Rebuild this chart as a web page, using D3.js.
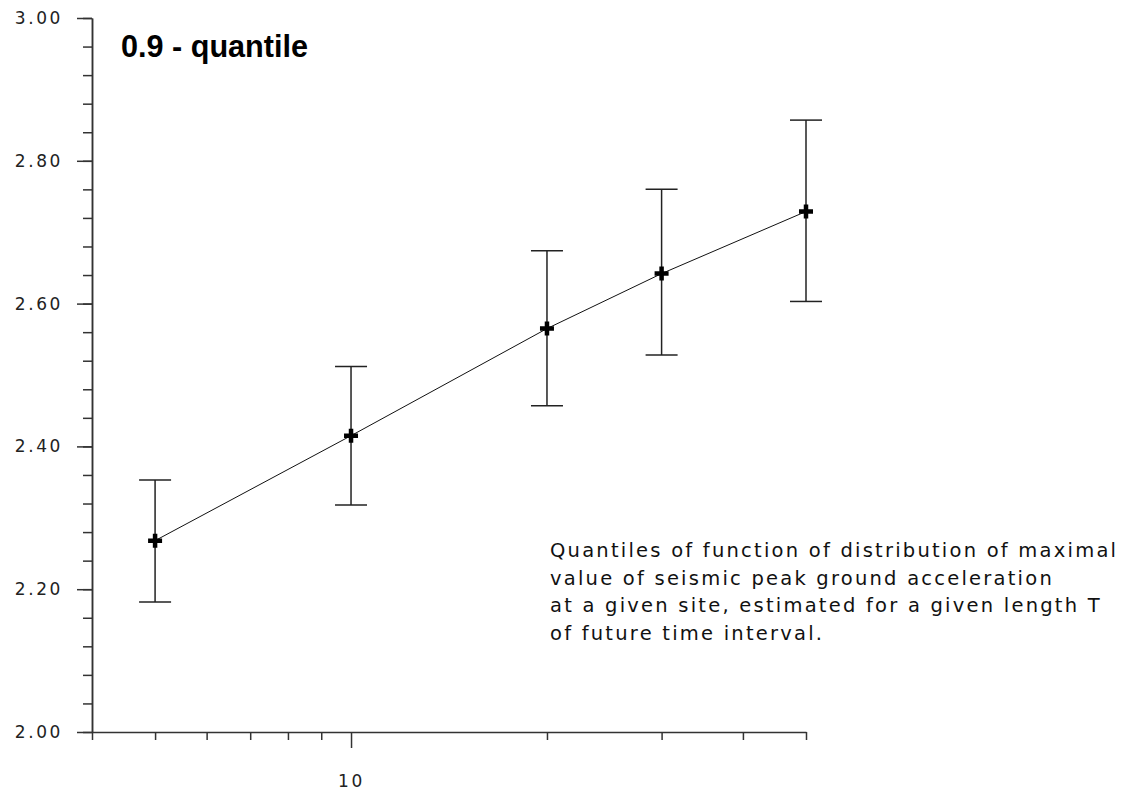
<!DOCTYPE html>
<html>
<head>
<meta charset="utf-8">
<script src="https://cdn.jsdelivr.net/npm/d3@7"></script>
<style>
  body { margin: 0; background: #fff; }
  svg { display: block; }
</style>
</head>
<body>
<div id="chart"></div>
<script>
// T (years) on a log axis, 0.9-quantile with lower / upper bounds
const periods = [5, 10, 20, 30, 50];
const quantile = [2.268, 2.415, 2.565, 2.642, 2.729];
const lowerBound = [2.182, 2.318, 2.457, 2.528, 2.603];
const upperBound = [2.353, 2.512, 2.674, 2.760, 2.857];

const yMajorTicks = [2.0, 2.2, 2.4, 2.6, 2.8, 3.0];
const yMinorTicks = d3.range(0, 26).map(i => 2 + i * 0.04);
const xMinorTicks = [4, 5, 6, 7, 8, 9, 20, 30, 40, 50];
const xMajorTicks = [10];

const titleText = "0.9 - quantile";
const noteLines = [
  "Quantiles of function of distribution of maximal",
  "value of seismic peak ground acceleration",
  "at a given site, estimated for a given length T",
  "of future time interval."
];

const width = 1123,
  height = 792;
const svg = d3.select("#chart").append("svg").attr("width", width).attr("height", height);

const x = d3.scaleLog().domain([4, 50]).range([92, 806]);
const y = d3.scaleLinear().domain([2, 3]).range([732, 18]);

const axisColor = "#333";
const tickFont = "'DejaVu Sans', sans-serif";

function styleLabels(g) {
  g.selectAll("text")
    .attr("fill", "#222")
    .attr("font-family", tickFont)
    .attr("font-size", 17)
    .attr("letter-spacing", "2.6px");
}

// y axis: minor ticks first, then labelled majors
svg
  .append("g")
  .attr("transform", `translate(${x.range()[0]},0)`)
  .call(d3.axisLeft(y).tickValues(yMinorTicks).tickSize(9).tickSizeOuter(0).tickFormat(""))
  .call(g => g.selectAll("line,path").attr("stroke", axisColor).attr("stroke-width", 1.5));

svg
  .append("g")
  .attr("transform", `translate(${x.range()[0]},0)`)
  .call(d3.axisLeft(y).tickValues(yMajorTicks).tickSize(15).tickSizeOuter(0).tickPadding(14).tickFormat(d3.format(".2f")))
  .call(g => g.selectAll("line,path").attr("stroke", axisColor).attr("stroke-width", 1.5))
  .call(styleLabels);

// x axis (log)
svg
  .append("g")
  .attr("transform", `translate(0,${y.range()[0]})`)
  .call(d3.axisBottom(x).tickValues(xMinorTicks).tickSize(8).tickSizeOuter(0).tickFormat(""))
  .call(g => g.selectAll("line,path").attr("stroke", axisColor).attr("stroke-width", 1.5));

svg
  .append("g")
  .attr("transform", `translate(0,${y.range()[0]})`)
  .call(d3.axisBottom(x).tickValues(xMajorTicks).tickSize(16).tickSizeOuter(0).tickPadding(27).tickFormat(d3.format("d")))
  .call(g => g.select(".domain").remove())
  .call(g => g.selectAll("line").attr("stroke", axisColor).attr("stroke-width", 1.5))
  .call(styleLabels);

const rows = periods.map((t, i) => ({ t, q: quantile[i], lo: lowerBound[i], hi: upperBound[i] }));

// error bars
const bars = svg.append("g").attr("stroke", "#222").attr("stroke-width", 1.5);
bars
  .selectAll(".whisker")
  .data(rows)
  .join("line")
  .attr("x1", d => x(d.t))
  .attr("x2", d => x(d.t))
  .attr("y1", d => y(d.lo))
  .attr("y2", d => y(d.hi));
bars
  .selectAll(".cap-lo")
  .data(rows)
  .join("line")
  .attr("x1", d => x(d.t) - 16)
  .attr("x2", d => x(d.t) + 16)
  .attr("y1", d => y(d.lo))
  .attr("y2", d => y(d.lo));
bars
  .selectAll(".cap-hi")
  .data(rows)
  .join("line")
  .attr("x1", d => x(d.t) - 16)
  .attr("x2", d => x(d.t) + 16)
  .attr("y1", d => y(d.hi))
  .attr("y2", d => y(d.hi));

// connecting line
svg
  .append("path")
  .datum(rows)
  .attr("fill", "none")
  .attr("stroke", "#111")
  .attr("stroke-width", 1)
  .attr("d", d3.line().x(d => x(d.t)).y(d => y(d.q)));

// bold plus markers
svg
  .append("g")
  .selectAll("path")
  .data(rows)
  .join("path")
  .attr("fill", "none")
  .attr("stroke", "#000")
  .attr("stroke-width", 4.5)
  .attr("d", d => {
    const cx = x(d.t), cy = y(d.q);
    return `M${cx - 7},${cy}H${cx + 7}M${cx},${cy - 7}V${cy + 7}`;
  });

// title
svg
  .append("text")
  .attr("x", 121)
  .attr("y", 57)
  .attr("font-family", "'Liberation Sans', Arial, sans-serif")
  .attr("font-weight", "bold")
  .attr("font-size", 31)
  .attr("fill", "#000")
  .attr("textLength", 187)
  .attr("lengthAdjust", "spacingAndGlyphs")
  .text(titleText);

// note text; letter spacing stretched so the first line spans the same width
const note = svg
  .append("g")
  .attr("font-family", "'DejaVu Sans', sans-serif")
  .attr("font-size", 19.5)
  .attr("fill", "#111");

const noteText = note
  .selectAll("text")
  .data(noteLines)
  .join("text")
  .attr("x", 550)
  .attr("y", (d, i) => 557 + i * 27.5)
  .text(d => d);

const firstLen = noteText.node().getComputedTextLength();
const spacing = (566 - firstLen) / (noteLines[0].length - 1);
noteText.attr("letter-spacing", spacing + "px");
</script>
</body>
</html>
